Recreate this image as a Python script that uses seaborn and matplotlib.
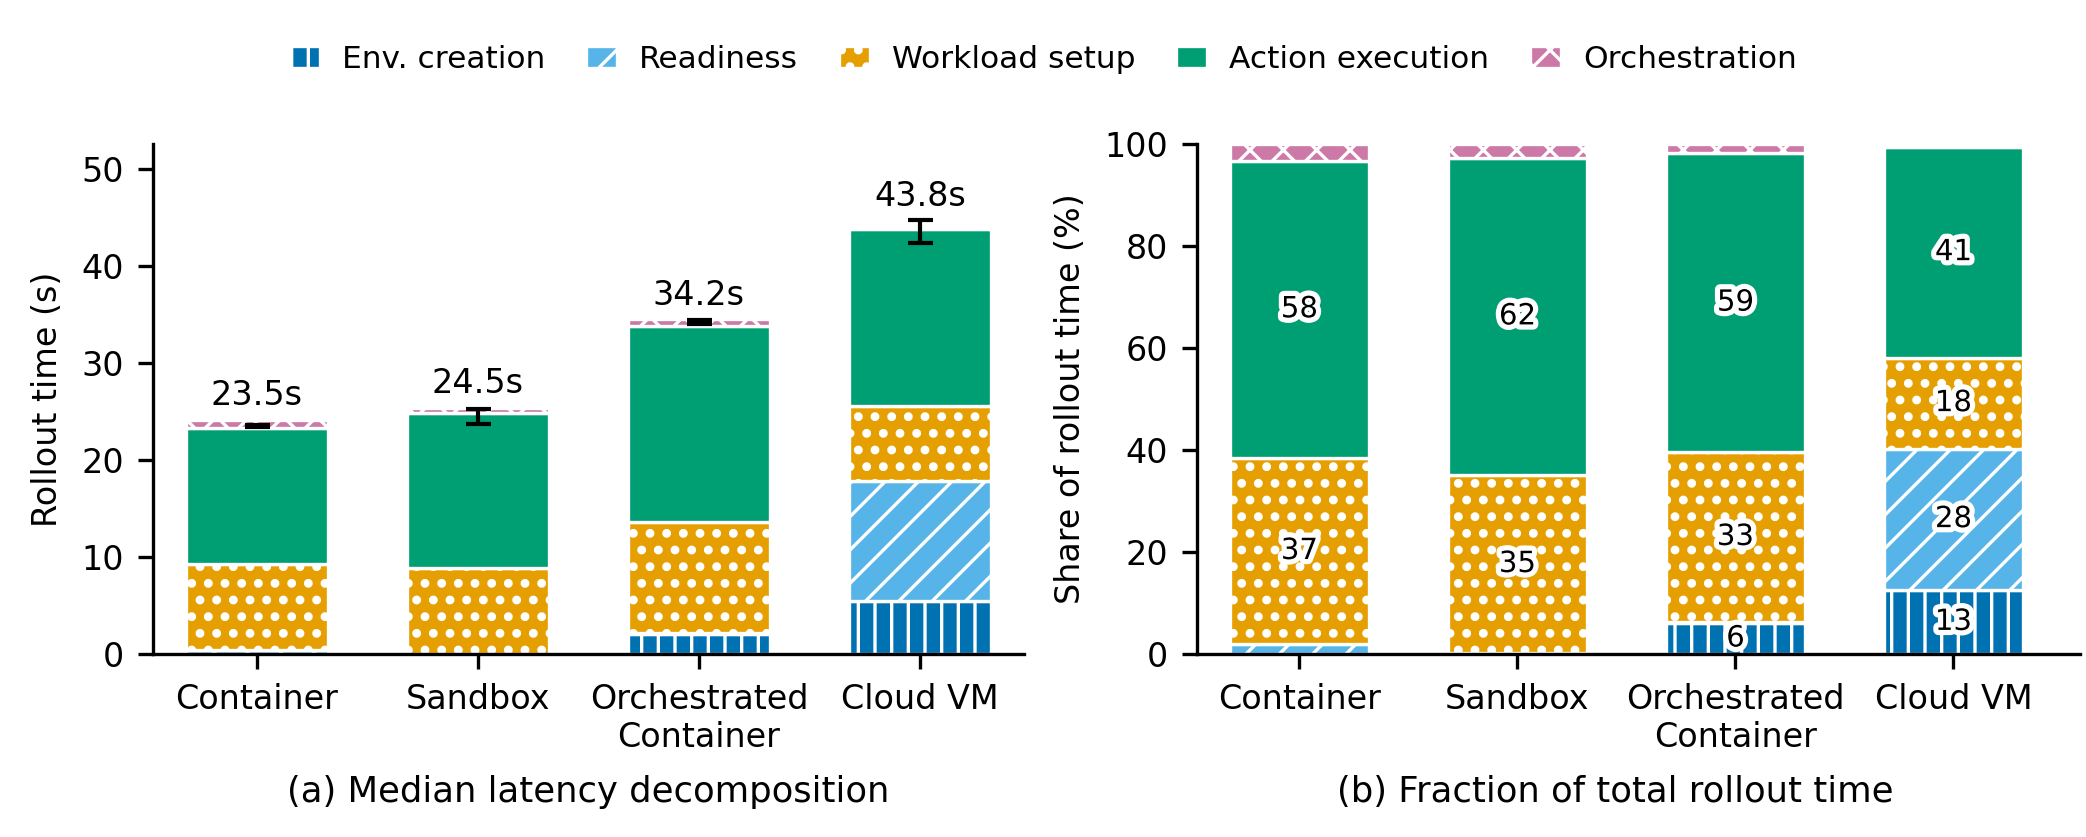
import numpy as np
import matplotlib
matplotlib.use("Agg")
import matplotlib.pyplot as plt
import matplotlib.patches as mpatches
import matplotlib.patheffects as pe
import seaborn as sns

platforms = ["Container", "Sandbox", "Orchestrated\nContainer", "Cloud VM"]
phases = ["Env. creation", "Readiness", "Workload setup", "Action execution", "Orchestration"]
phase_colors = ["#0072B2", "#56B4E9", "#E69F00", "#009E73", "#CC79A7"]
phase_hatches = ["|||", "///", "...", "", "xxx"]
hatch_lws = [0.8, 0.8, 1.3, 0.8, 0.8]

# (a) median seconds per phase
env_s = [0.0, 0.0, 2.05, 5.5]
ready_s = [0.45, 0.05, 0.1, 12.3]
workload_s = [8.85, 8.85, 11.45, 7.8]
action_s = [14.0, 15.9, 20.2, 18.2]
orch_s = [0.8, 0.6, 0.7, 0.1]

# median total rollout time and its error bar
total_median = [23.5, 24.5, 34.2, 43.8]
total_err_lo = [0.1, 0.8, 0.2, 1.4]
total_err_hi = [0.1, 0.8, 0.2, 0.9]

# (b) share of rollout time (%)
env_pct = [0.0, 0.0, 6.1, 12.6]
ready_pct = [1.9, 0.2, 0.2, 27.7]
workload_pct = [36.6, 34.9, 33.3, 17.8]
action_pct = [58.2, 62.2, 58.6, 41.4]
orch_pct = [3.3, 2.7, 1.8, 0.0]

sns.set_theme(style="ticks", rc={
    "font.size": 8, "axes.labelsize": 8, "xtick.labelsize": 8, "ytick.labelsize": 8,
    "legend.fontsize": 7.5, "text.color": "black", "axes.labelcolor": "black",
    "xtick.color": "black", "ytick.color": "black", "axes.edgecolor": "black",
    "axes.linewidth": 0.8, "xtick.major.width": 0.8, "ytick.major.width": 0.8,
    "xtick.major.size": 3.5, "ytick.major.size": 3.5, "hatch.linewidth": 0.8,
})
plt.rcParams["font.family"] = ["DejaVu Sans"]

BAR_W = 0.64


def set_hatch_lw(patches, lw):
    for p in patches:
        if hasattr(p, "set_hatch_linewidth"):
            p.set_hatch_linewidth(lw)


def stacked(ax, layers):
    bottom = np.zeros(len(platforms))
    bottoms = []
    for vals, color, hatch, hlw in zip(layers, phase_colors, phase_hatches, hatch_lws):
        with plt.rc_context({"hatch.linewidth": hlw}):
            sns.barplot(x=platforms, y=vals, bottom=bottom, color=color, hatch=hatch,
                        edgecolor="white", linewidth=0.8, width=BAR_W, saturation=1,
                        errorbar=None, ax=ax)
        set_hatch_lw(ax.containers[-1], hlw)
        bottoms.append(bottom.copy())
        bottom = bottom + np.asarray(vals)
    return bottoms, bottom


fig = plt.figure(figsize=(2086 / 300, 837 / 300), dpi=300)
ax1 = fig.add_axes([0.0733, 0.2186, 0.4175, 0.6093])
ax2 = fig.add_axes([0.5738, 0.2186, 0.4233, 0.6093])

# (a) latency decomposition
_, tops = stacked(ax1, [env_s, ready_s, workload_s, action_s, orch_s])
x = np.arange(len(platforms))
ax1.errorbar(x, total_median, yerr=[total_err_lo, total_err_hi], fmt="none",
             ecolor="black", elinewidth=1, capsize=3, capthick=1, zorder=5)
err_top = np.asarray(total_median) + np.asarray(total_err_hi)
for i, t in enumerate(total_median):
    ax1.text(i, max(tops[i], err_top[i]) + 0.8, f"{t:.1f}s", ha="center", va="bottom",
             fontsize=8)
ax1.set_ylim(0, max(total_median) * 1.2)
ax1.set_yticks([0, 10, 20, 30, 40, 50])
ax1.set_ylabel("Rollout time (s)")
ax1.set_xlim(-0.47, 3.47)
ax1.text(0.5, -0.27, "(a) Median latency decomposition", transform=ax1.transAxes,
         ha="center", va="center", fontsize=8.5)

# (b) fraction of rollout time
pct_layers = [env_pct, ready_pct, workload_pct, action_pct, orch_pct]
bottoms, _ = stacked(ax2, pct_layers)
for vals, bot in zip(pct_layers, bottoms):
    for i, v in enumerate(vals):
        if v >= 5:
            ax2.text(i, bot[i] + v / 2, f"{v:.0f}", ha="center", va="center", fontsize=7,
                     path_effects=[pe.withStroke(linewidth=2.5, foreground="white")])
ax2.set_ylim(0, 100)
ax2.set_yticks([0, 20, 40, 60, 80, 100])
ax2.set_ylabel("Share of rollout time (%)")
ax2.set_xlim(-0.47, 3.58)
ax2.text(0.474, -0.27, "(b) Fraction of total rollout time", transform=ax2.transAxes,
         ha="center", va="center", fontsize=8.5)

for ax in (ax1, ax2):
    ax.set_xlabel("")
    sns.despine(ax=ax)

handles = []
for c, h, l, hlw in zip(phase_colors, phase_hatches, phases, hatch_lws):
    with plt.rc_context({"hatch.linewidth": hlw}):
        p = mpatches.Patch(facecolor=c, edgecolor="white", hatch=h, linewidth=0.8, label=l)
    handles.append(p)
leg = fig.legend(handles=handles, loc="center", bbox_to_anchor=(0.5, 1 - 59 / 837), ncol=5,
                 frameon=False, handlelength=1.0, handleheight=0.7, handletextpad=0.7,
                 columnspacing=1.3)
for p, hlw in zip(leg.get_patches(), hatch_lws):
    set_hatch_lw([p], hlw)

fig.savefig("out.png", dpi=300)
